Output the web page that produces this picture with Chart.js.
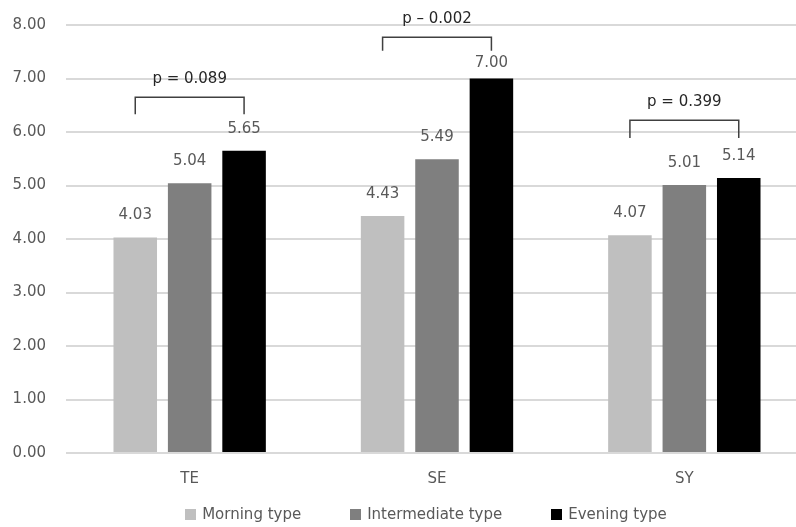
<!DOCTYPE html>
<html>
<head>
<meta charset="utf-8">
<script src="https://cdn.jsdelivr.net/npm/chart.js@4.4.1/dist/chart.umd.min.js"></script>
<style>
  body { margin: 0; background: #fff; }
  #wrap { position: relative; width: 796px; height: 527px; }
  #legend {
    position: absolute; left: 0; top: 505px; width: 796px; padding-left: 56px; box-sizing: border-box;
    display: flex; justify-content: center; gap: 49px;
    font-family: "DejaVu Sans", sans-serif; font-size: 15px; color: #595959;
  }
  #legend span.item { display: flex; align-items: center; }
  #legend span.box { width: 11px; height: 11px; margin-right: 6px; display: inline-block; }
</style>
</head>
<body>
<div id="wrap">
  <canvas id="chart" width="796" height="527"></canvas>
  <div id="legend"></div>
</div>
<script>
// chart values
const categories = ['TE', 'SE', 'SY'];
const morningValues = [4.03, 4.43, 4.07];
const intermediateValues = [5.04, 5.49, 5.01];
const eveningValues = [5.65, 7.00, 5.14];
const seriesNames = ['Morning type', 'Intermediate type', 'Evening type'];
const seriesColors = ['#bfbfbf', '#7f7f7f', '#000000'];
const yTicks = [0, 1, 2, 3, 4, 5, 6, 7, 8];

// significance brackets (morning vs evening)
const pLabels = ['p = 0.089', 'p \u2013 0.002', 'p = 0.399'];
const bracketTop = [6.65, 7.77, 6.22];
const bracketLegEnd = [6.33, 7.52, 5.89];

const FONT = '"DejaVu Sans", sans-serif';

// plot area runs a little past the right edge of the canvas in the original
const stretchRight = {
  id: 'stretchRight',
  afterLayout(chart) {
    const x = chart.scales.x;
    const extra = 12;
    chart.chartArea.right += extra;
    chart.chartArea.width += extra;
    x.right += extra;
    x.width += extra;
    x.configure();
  }
};

// draws value labels above bars and the p-value brackets
const annotations = {
  id: 'annotations',
  afterDatasetsDraw(chart) {
    const ctx = chart.ctx;
    const y = chart.scales.y;
    ctx.save();
    ctx.font = '15px ' + FONT;
    ctx.textAlign = 'center';
    ctx.textBaseline = 'middle';

    chart.data.datasets.forEach((ds, i) => {
      const meta = chart.getDatasetMeta(i);
      meta.data.forEach((bar, j) => {
        let ly = bar.y - 22;
        if (i === 2) ly = Math.max(ly, y.getPixelForValue(bracketLegEnd[j]) + 12);
        ctx.fillStyle = '#595959';
        ctx.fillText(ds.data[j].toFixed(2), bar.x, ly);
      });
    });

    const first = chart.getDatasetMeta(0).data;
    const last = chart.getDatasetMeta(2).data;
    categories.forEach((c, j) => {
      const x1 = first[j].x, x2 = last[j].x;
      const top = y.getPixelForValue(bracketTop[j]);
      const leg = y.getPixelForValue(bracketLegEnd[j]);
      ctx.strokeStyle = '#404040';
      ctx.lineWidth = 1.5;
      ctx.beginPath();
      ctx.moveTo(x1, leg);
      ctx.lineTo(x1, top);
      ctx.lineTo(x2, top);
      ctx.lineTo(x2, leg);
      ctx.stroke();
      ctx.fillStyle = '#262626';
      ctx.fillText(pLabels[j], (x1 + x2) / 2, top - 18);
    });
    ctx.restore();
  }
};

const chart = new Chart(document.getElementById('chart'), {
  type: 'bar',
  data: {
    labels: categories,
    datasets: [morningValues, intermediateValues, eveningValues].map((vals, i) => ({
      label: seriesNames[i],
      data: vals,
      backgroundColor: seriesColors[i],
      barPercentage: 0.8,
      categoryPercentage: 0.66
    }))
  },
  options: {
    responsive: false,
    animation: false,
    layout: { padding: { left: 13, right: 0, top: 25, bottom: 30 } },
    plugins: { legend: { display: false }, tooltip: { enabled: false } },
    scales: {
      x: {
        grid: { display: false },
        border: { display: false },
        afterFit: axis => { axis.paddingLeft = 0; axis.paddingRight = 0; },
        ticks: { color: '#595959', font: { family: FONT, size: 15 }, padding: 9 }
      },
      y: {
        min: 0, max: 8,
        afterBuildTicks: axis => { axis.ticks = yTicks.map(v => ({ value: v })); },
        afterFit: axis => { axis.width = 53; axis.paddingTop = 0; axis.paddingBottom = 0; },
        grid: { color: '#d9d9d9', lineWidth: 2, drawTicks: false },
        border: { display: false },
        ticks: { color: '#595959', font: { family: FONT, size: 15 }, padding: 20,
                 callback: v => v.toFixed(2) }
      }
    }
  },
  plugins: [stretchRight, annotations]
});

// legend as html below the chart
const legend = document.getElementById('legend');
seriesNames.forEach((name, i) => {
  const item = document.createElement('span');
  item.className = 'item';
  item.innerHTML = '<span class="box" style="background:' + seriesColors[i] + '"></span>' + name;
  legend.appendChild(item);
});
</script>
</body>
</html>
